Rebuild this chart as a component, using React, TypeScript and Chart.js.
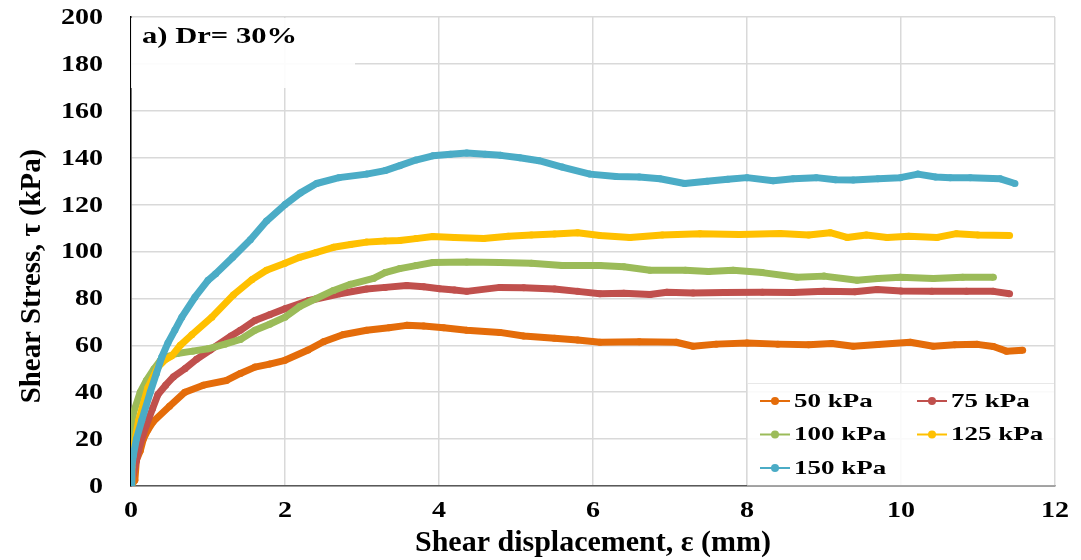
import React, { useEffect, useRef } from "react";
import { Chart, registerables } from "chart.js";
Chart.register(...registerables);

const seriesNames = ["50 kPa", "75 kPa", "100 kPa", "125 kPa", "150 kPa"];
const seriesColors = ["#E46C0A", "#C0504D", "#9BBB59", "#FFC000", "#4BACC6"];

const xTickLabels = ["0", "2", "4", "6", "8", "10", "12"];
const yTickLabels = ["0", "20", "40", "60", "80", "100", "120", "140", "160", "180", "200"];

const disp50 = [0, 0.05, 0.07, 0.12, 0.16, 0.22, 0.29, 0.5, 0.7, 0.94, 1.24, 1.42, 1.61, 1.8, 2.0, 2.3, 2.5, 2.75, 3.06, 3.35, 3.58, 3.8, 4.06, 4.36, 4.79, 5.1, 5.5, 5.8, 6.09, 6.6, 7.08, 7.3, 7.6, 8.0, 8.4, 8.8, 9.1, 9.38, 9.7, 10.12, 10.42, 10.7, 10.99, 11.2, 11.37, 11.58];
const tau50 = [0, 2.5, 11, 15, 20, 24, 27.5, 34, 40, 43, 45, 48, 50.7, 52, 53.6, 58, 61.5, 64.5, 66.4, 67.5, 68.5, 68.2, 67.5, 66.4, 65.5, 64, 63, 62.3, 61.3, 61.5, 61.3, 59.6, 60.5, 61, 60.5, 60.2, 60.8, 59.6, 60.3, 61.3, 59.6, 60.2, 60.4, 59.5, 57.5, 57.9];

const disp75 = [0, 0.03, 0.07, 0.12, 0.2, 0.28, 0.35, 0.45, 0.55, 0.7, 0.85, 1.03, 1.3, 1.42, 1.61, 1.8, 2.0, 2.3, 2.71, 3.06, 3.3, 3.58, 3.8, 4.01, 4.2, 4.36, 4.79, 5.1, 5.5, 5.8, 6.09, 6.4, 6.74, 6.96, 7.3, 7.7, 8.2, 8.6, 9.0, 9.4, 9.69, 10.0, 10.4, 10.85, 11.2, 11.41];
const tau75 = [0, 5, 11, 18, 26, 33, 39, 43, 46.5, 50, 54, 58, 64, 66.4, 70.6, 73, 75.6, 79, 82, 84, 84.7, 85.5, 85, 84.1, 83.6, 83, 84.7, 84.5, 84, 83, 82, 82.2, 81.7, 82.6, 82.3, 82.5, 82.6, 82.5, 83, 82.8, 83.8, 83.2, 83, 83, 83, 82];

const disp100 = [0, 0.005, 0.01, 0.03, 0.12, 0.2, 0.3, 0.38, 0.45, 0.6, 0.8, 1.0, 1.22, 1.42, 1.61, 1.8, 2.0, 2.19, 2.41, 2.63, 2.85, 3.15, 3.3, 3.49, 3.7, 3.92, 4.36, 4.79, 5.2, 5.6, 6.09, 6.4, 6.74, 7.2, 7.5, 7.82, 8.2, 8.65, 9.0, 9.43, 9.7, 9.99, 10.42, 10.8, 11.2];
const tau100 = [0, 12, 20, 31, 40, 45, 50, 53.5, 55, 56.5, 57.5, 58.5, 60.5, 62.5, 66.4, 69, 72, 76.5, 80, 83.4, 86, 88.5, 91, 92.7, 94, 95.3, 95.5, 95.3, 95, 94, 94, 93.5, 92, 92, 91.5, 92, 91, 89, 89.5, 87.7, 88.5, 89, 88.5, 89, 89];

const disp125 = [0, 0.01, 0.03, 0.1, 0.22, 0.35, 0.45, 0.53, 0.64, 0.79, 1.05, 1.33, 1.57, 1.76, 2.0, 2.19, 2.4, 2.63, 2.85, 3.06, 3.3, 3.49, 3.7, 3.92, 4.2, 4.58, 4.9, 5.2, 5.5, 5.8, 6.09, 6.48, 6.9, 7.39, 7.9, 8.43, 8.8, 9.08, 9.3, 9.55, 9.82, 10.1, 10.47, 10.72, 11.0, 11.41];
const tau125 = [0, 8, 16, 28, 42, 50.7, 54, 55.5, 60, 64.5, 72, 81.5, 88, 92, 95, 97.5, 99.5, 101.8, 103, 104, 104.5, 104.7, 105.5, 106.4, 106, 105.5, 106.5, 107, 107.5, 108, 106.8, 106, 107, 107.6, 107.3, 107.7, 107, 108, 106, 107, 106, 106.5, 106, 107.6, 107, 106.8];

const disp150 = [0, 0.01, 0.03, 0.07, 0.14, 0.25, 0.33, 0.4, 0.48, 0.57, 0.66, 0.83, 1.0, 1.1, 1.32, 1.55, 1.76, 2.0, 2.2, 2.41, 2.7, 3.06, 3.3, 3.49, 3.7, 3.92, 4.15, 4.36, 4.6, 4.8, 5.05, 5.3, 5.6, 5.96, 6.3, 6.6, 6.87, 7.19, 7.48, 7.75, 8.0, 8.34, 8.6, 8.9, 9.15, 9.38, 9.7, 9.99, 10.22, 10.45, 10.64, 10.9, 11.29, 11.48];
const tau150 = [0, 8, 13, 20, 28, 40, 48, 55, 61, 66.5, 72, 80.5, 87.7, 90.5, 97.5, 105, 113, 120, 125, 129, 131.5, 133, 134.5, 136.6, 139, 140.8, 141.5, 142, 141.5, 141, 140, 138.7, 136, 133, 132, 131.8, 131, 129, 130, 130.8, 131.5, 130.2, 131, 131.5, 130.6, 130.5, 131, 131.5, 133, 131.8, 131.5, 131.5, 131, 129];

const seriesX = [disp50, disp75, disp100, disp125, disp150];
const seriesY = [tau50, tau75, tau100, tau125, tau150];

const panelTitle = "a) Dr= 30%";
const xTitle = "Shear displacement, \u03B5 (mm)";
const yTitle = "Shear Stress, \u03C4 (kPa)";

const FONT = "'Liberation Serif', 'Times New Roman', serif";

function stretchedText(ctx: CanvasRenderingContext2D, text: string, x: number, y: number, align: CanvasTextAlign, sx: number) {
  ctx.save();
  ctx.translate(x, y);
  ctx.scale(sx, 1);
  ctx.textAlign = align;
  ctx.fillText(text, 0, 0);
  ctx.restore();
}

const decorPlugin = {
  id: "decor",
  afterDatasetsDraw(chart: any) {
    const ctx: CanvasRenderingContext2D = chart.ctx;
    const area = chart.chartArea;
    ctx.save();
    // title box
    ctx.fillStyle = "rgba(255,255,255,0.9)";
    ctx.fillRect(area.left, area.top + 1, 224, 70);
    ctx.fillStyle = "#000";
    ctx.font = `bold 23px ${FONT}`;
    ctx.textBaseline = "alphabetic";
    stretchedText(ctx, panelTitle, area.left + 11, area.top + 26, "left", 1.33);

    // legend box
    const lx = 747, ly = 383, lw = area.right - 747 - 1, lh = area.bottom - 383 - 1;
    ctx.fillStyle = "rgba(255,255,255,0.85)";
    ctx.fillRect(lx, ly, lw, lh);
    ctx.strokeStyle = "rgba(217,217,217,0.6)";
    ctx.lineWidth = 1;
    ctx.strokeRect(lx + 0.5, ly + 0.5, lw, lh);
    const cols = [760, 917];
    const rows = [401, 434.5, 468];
    ctx.font = `bold 19px ${FONT}`;
    ctx.textBaseline = "middle";
    seriesNames.forEach((name, i) => {
      const cx = cols[i % 2];
      const cy = rows[Math.floor(i / 2)];
      ctx.strokeStyle = seriesColors[i];
      ctx.lineWidth = 2;
      ctx.beginPath();
      ctx.moveTo(cx, cy);
      ctx.lineTo(cx + 30, cy);
      ctx.stroke();
      ctx.fillStyle = seriesColors[i];
      ctx.beginPath();
      ctx.arc(cx + 15, cy, 4, 0, Math.PI * 2);
      ctx.fill();
      ctx.fillStyle = "#000";
      stretchedText(ctx, name, cx + 34, cy + 1, "left", 1.42);
    });
    ctx.restore();
  },
  afterDraw(chart: any) {
    const ctx: CanvasRenderingContext2D = chart.ctx;
    const area = chart.chartArea;
    const xs = chart.scales.x;
    const ys = chart.scales.y;
    ctx.save();
    ctx.fillStyle = "#000";
    ctx.font = `bold 23px ${FONT}`;
    ctx.textBaseline = "middle";
    yTickLabels.forEach((t) => {
      const py = ys.getPixelForValue(Number(t));
      stretchedText(ctx, t, area.left - 28, py + 1, "right", 1.22);
    });
    xTickLabels.forEach((t) => {
      const px = xs.getPixelForValue(Number(t));
      stretchedText(ctx, t, px, area.bottom + 25, "center", 1.22);
    });
    // axis titles
    ctx.font = `bold 30px ${FONT}`;
    ctx.textBaseline = "alphabetic";
    ctx.textAlign = "center";
    ctx.fillText(xTitle, (area.left + area.right) / 2, 551);
    ctx.save();
    ctx.translate(40, 276);
    ctx.rotate(-Math.PI / 2);
    ctx.scale(0.96, 1);
    ctx.fillText(yTitle, 0, 0);
    ctx.restore();
    ctx.restore();
  },
};

export default function App() {
  const ref = useRef<HTMLCanvasElement | null>(null);
  useEffect(() => {
    document.body.style.margin = "0";
    const canvas = ref.current!;
    const datasets = seriesNames.map((name, i) => ({
      label: name,
      data: seriesX[i].map((x, j) => ({ x, y: seriesY[i][j] })),
      borderColor: seriesColors[i],
      backgroundColor: seriesColors[i],
      borderWidth: 7,
      pointRadius: 3.5,
      pointHoverRadius: 3.5,
      pointBorderWidth: 0,
      showLine: true,
      tension: 0,
      borderJoinStyle: "round",
      order: 5 - i,
    }));
    const chart = new Chart(canvas, {
      type: "scatter",
      data: { datasets },
      options: {
        responsive: false,
        animation: false,
        layout: { padding: { top: 17, right: 26, left: 0, bottom: 0 } },
        plugins: { legend: { display: false }, tooltip: { enabled: false } },
        scales: {
          x: {
            type: "linear",
            min: 0,
            max: 12,
            ticks: { display: false, stepSize: 2 },
            grid: { color: "#d9d9d9", lineWidth: 1.5, drawTicks: false, tickLength: 0 },
            border: { color: "#595959", width: 1.5 },
            afterFit: (s: any) => { s.height = 74; },
          },
          y: {
            type: "linear",
            min: 0,
            max: 200,
            ticks: { display: false, stepSize: 20 },
            grid: { color: "#d9d9d9", lineWidth: 1.5, drawTicks: false, tickLength: 0 },
            border: { color: "#000", width: 1.5 },
            afterFit: (s: any) => { s.width = 131; },
          },
        },
      } as any,
      plugins: [decorPlugin],
    });
    return () => chart.destroy();
  }, []);
  return (
    <div style={{ position: "absolute", left: 0, top: 0, width: 1081, height: 560, background: "#fff" }}>
      <canvas ref={ref} width={1081} height={560} style={{ display: "block", width: 1081, height: 560 }} />
    </div>
  );
}
